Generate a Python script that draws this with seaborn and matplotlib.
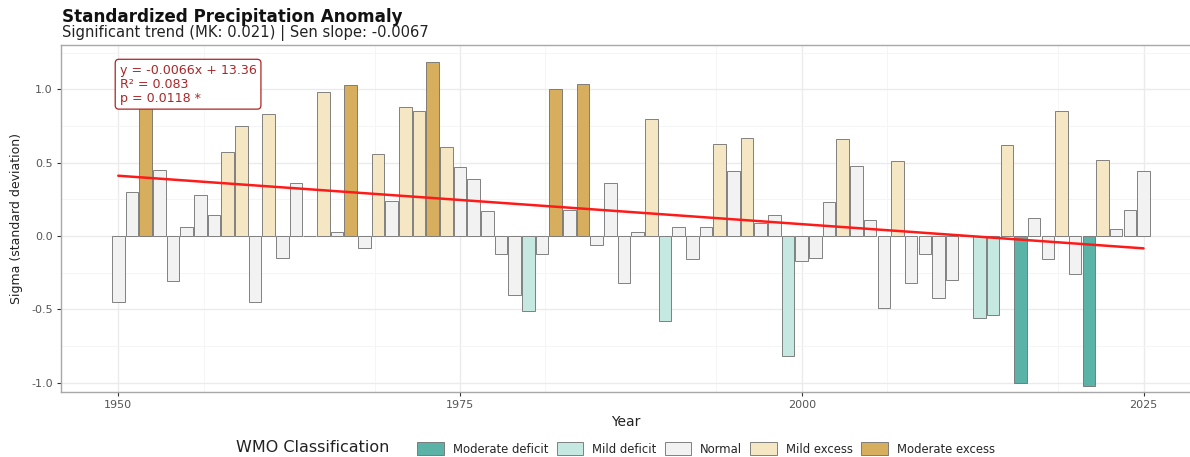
import numpy as np
import pandas as pd
import matplotlib
matplotlib.use("Agg")
import matplotlib.pyplot as plt
import seaborn as sns

# ---------------- data ----------------
years = list(range(1950, 2026))
values = [
    -0.45, 0.30, 1.04, 0.45, -0.31, 0.06, 0.28, 0.14, 0.57, 0.75,   # 1950-59
    -0.45, 0.83, -0.15, 0.36, 0.00, 0.98, 0.03, 1.03, -0.08, 0.56,  # 1960-69
    0.24, 0.88, 0.85, 1.19, 0.61, 0.47, 0.39, 0.17, -0.12, -0.40,   # 1970-79
    -0.51, -0.12, 1.00, 0.18, 1.04, -0.06, 0.36, -0.32, 0.03, 0.80, # 1980-89
    -0.58, 0.06, -0.16, 0.06, 0.63, 0.44, 0.67, 0.09, 0.14, -0.82,  # 1990-99
    -0.17, -0.15, 0.23, 0.66, 0.48, 0.11, -0.49, 0.51, -0.32, -0.12,# 2000-09
    -0.42, -0.30, 0.00, -0.56, -0.54, 0.62, -1.00, 0.12, -0.16, 0.85,# 2010-19
    -0.26, -1.02, 0.52, 0.05, 0.18, 0.44,                           # 2020-25
]
# N normal, ME mild excess, MX moderate excess, MD mild deficit, DD moderate deficit
class_codes = [
    "N", "N", "MX", "N", "N", "N", "N", "N", "ME", "ME",
    "N", "ME", "N", "N", "N", "ME", "N", "MX", "N", "ME",
    "N", "ME", "ME", "MX", "ME", "N", "N", "N", "N", "N",
    "MD", "N", "MX", "N", "MX", "N", "N", "N", "N", "ME",
    "MD", "N", "N", "N", "ME", "N", "ME", "N", "N", "MD",
    "N", "N", "N", "ME", "N", "N", "N", "ME", "N", "N",
    "N", "N", "N", "MD", "MD", "ME", "DD", "N", "N", "ME",
    "N", "DD", "ME", "N", "N", "N",
]
code_names = {"DD": "Moderate deficit", "MD": "Mild deficit", "N": "Normal",
              "ME": "Mild excess", "MX": "Moderate excess"}
class_order = ["Moderate deficit", "Mild deficit", "Normal", "Mild excess", "Moderate excess"]
class_colors = ["#5BB3A8", "#C5E8E1", "#F2F2F2", "#F5E7C4", "#D6AE5E"]

title = "Standardized Precipitation Anomaly"
subtitle = "Significant trend (MK: 0.021) | Sen slope: -0.0067"
annot = "y = -0.0066x + 13.36\nR\u00b2 = 0.083\np = 0.0118 *"
x_ticks = [1950, 1975, 2000, 2025]
y_ticks = [-1.0, -0.5, 0.0, 0.5, 1.0]

df = pd.DataFrame({"Year": years, "Sigma": values,
                   "WMO": [code_names[c] for c in class_codes]})

# ---------------- figure ----------------
sns.set_theme(style="white")
plt.rcParams["font.family"] = ["DejaVu Sans"]

W, H = 1190, 457
fig = plt.figure(figsize=(W / 100, H / 100), dpi=100)
ax = fig.add_axes([61 / W, 1 - 392 / H, (W - 61) / W, (392 - 44.5) / H])

# grid
ax.set_axisbelow(True)
ax.set_xticks([1956.25 + 12.5 * k for k in range(-1, 7)], minor=True)
ax.set_yticks(np.arange(-1.0, 1.31, 0.25), minor=True)
ax.grid(which="minor", color="#F4F4F4", linewidth=0.6)
ax.grid(which="major", color="#EBEBEB", linewidth=1.0)

sns.barplot(data=df, x="Year", y="Sigma", hue="WMO", hue_order=class_order,
            palette=class_colors, saturation=1, native_scale=True, dodge=False,
            width=0.92, edgecolor="#6E6E6E", linewidth=0.6, ax=ax, legend=True,
            zorder=2)

sns.regplot(data=df, x="Year", y="Sigma", scatter=False, ci=None, ax=ax,
            line_kws=dict(color="#FF1A1A", linewidth=1.8, zorder=4))

ax.set_xlim(1945.81, 2028.4)
ax.set_ylim(-1.064, 1.306)
ax.set_xticks(x_ticks)
ax.set_xticklabels([str(t) for t in x_ticks])
ax.set_yticks(y_ticks)
ax.set_yticklabels([f"{t:.1f}" for t in y_ticks])
ax.tick_params(axis="both", which="major", length=3, width=0.8, color="#333333",
               labelsize=8, labelcolor="#555555", direction="out", pad=3)
ax.tick_params(axis="both", which="minor", length=0)
ax.tick_params(axis="x", bottom=True)
ax.tick_params(axis="y", left=True)
for s in ax.spines.values():
    s.set_color("#A8A8A8")
    s.set_linewidth(1.0)
ax.spines["right"].set_visible(False)

ax.set_xlabel("Year", fontsize=10, color="#222222", labelpad=3)
ax.set_ylabel("Sigma (standard deviation)", fontsize=9, color="#222222", labelpad=6)

ax.text(1950.1, 1.175, annot, fontsize=9.1, color="#A8282A", va="top", ha="left",
        linespacing=1.1, zorder=5,
        bbox=dict(boxstyle="round,pad=0.35,rounding_size=0.3", fc="white",
                  ec="#B22222", lw=0.9))

# titles
fig.text(62 / W, 1 - 17 / H, title, fontsize=12.1, fontweight="bold",
         color="#111111", ha="left", va="center")
fig.text(62 / W, 1 - 33 / H, subtitle, fontsize=10.6, color="#222222",
         ha="left", va="center")

# legend
handles, labels = ax.get_legend_handles_labels()
ax.get_legend().remove()
lab2h = dict(zip(labels, handles))
hs = [lab2h[l] for l in class_order]
leg = fig.legend(hs, class_order, loc="center", bbox_to_anchor=(706 / W, 1 - 449 / H),
                 ncol=5, frameon=False, fontsize=8.4, handlelength=2.3,
                 handleheight=1.3, handletextpad=0.75, columnspacing=0.7,
                 borderaxespad=0)
fig.text(236 / W, 1 - 448 / H, "WMO Classification", fontsize=11.5, color="#222222",
         ha="left", va="center")

fig.savefig("out.png", dpi=100)
